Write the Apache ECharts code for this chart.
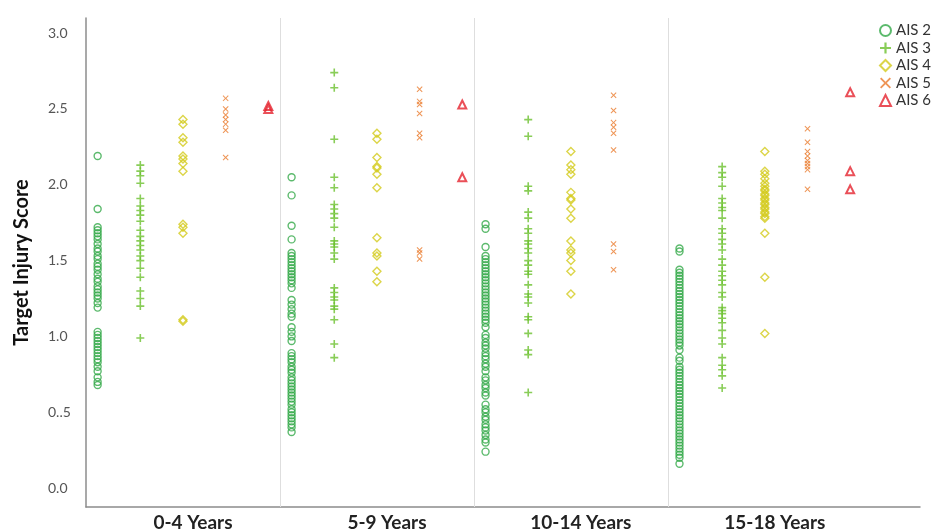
<!DOCTYPE html>
<html>
<head>
<meta charset="utf-8">
<script src="https://cdn.jsdelivr.net/npm/echarts@6/dist/echarts.min.js"></script>
<style>html,body{margin:0;padding:0;background:#fff}#c{width:937px;height:531px}</style>
</head>
<body>
<div id="c"></div>
<script>
// ---- data ----
const categories = ['0-4 Years', '5-9 Years', '10-14 Years', '15-18 Years'];
const seriesNames = ['AIS 2', 'AIS 3', 'AIS 4', 'AIS 5', 'AIS 6'];
const yTickLabels = ['0.0', '0..5', '1.0', '1.5', '2.0', '2.5', '3.0'];

// AIS 2 values per age group
const ais2_0_4 = [2.19, 1.84, 1.72, 1.70, 1.68, 1.66, 1.64, 1.61, 1.58, 1.56, 1.53, 1.51, 1.48, 1.46, 1.44, 1.41, 1.38, 1.36, 1.33, 1.31, 1.29, 1.27, 1.25, 1.22, 1.19, 1.03, 1.01, 0.99, 0.97, 0.95, 0.93, 0.91, 0.89, 0.87, 0.85, 0.83, 0.80, 0.77, 0.73, 0.70, 0.68];
const ais2_5_9 = [2.05, 1.93, 1.73, 1.64, 1.55, 1.53, 1.51, 1.49, 1.47, 1.45, 1.43, 1.41, 1.39, 1.37, 1.35, 1.32, 1.24, 1.21, 1.18, 1.15, 1.13, 1.06, 1.03, 1.00, 0.97, 0.89, 0.87, 0.85, 0.83, 0.80, 0.78, 0.76, 0.73, 0.71, 0.69, 0.67, 0.65, 0.63, 0.61, 0.59, 0.57, 0.55, 0.52, 0.50, 0.48, 0.46, 0.44, 0.42, 0.40, 0.37];
const ais2_10_14 = [1.74, 1.71, 1.59, 1.53, 1.51, 1.49, 1.47, 1.45, 1.43, 1.41, 1.39, 1.37, 1.35, 1.33, 1.31, 1.29, 1.27, 1.25, 1.23, 1.21, 1.19, 1.17, 1.15, 1.13, 1.11, 1.09, 1.06, 1.01, 0.99, 0.96, 0.94, 0.92, 0.89, 0.87, 0.85, 0.82, 0.80, 0.77, 0.73, 0.71, 0.68, 0.66, 0.63, 0.61, 0.55, 0.52, 0.50, 0.47, 0.45, 0.42, 0.40, 0.38, 0.35, 0.32, 0.30, 0.24];
const ais2_15_18 = [1.58, 1.56, 1.44, 1.42, 1.40, 1.38, 1.36, 1.34, 1.32, 1.30, 1.28, 1.26, 1.24, 1.22, 1.20, 1.18, 1.16, 1.14, 1.12, 1.10, 1.08, 1.06, 1.04, 1.02, 1.00, 0.98, 0.96, 0.94, 0.91, 0.86, 0.84, 0.80, 0.78, 0.76, 0.74, 0.72, 0.70, 0.68, 0.66, 0.64, 0.62, 0.60, 0.58, 0.56, 0.54, 0.52, 0.50, 0.48, 0.46, 0.44, 0.42, 0.40, 0.38, 0.36, 0.34, 0.32, 0.30, 0.28, 0.26, 0.24, 0.22, 0.20, 0.16];

// AIS 3
const ais3_0_4 = [2.13, 2.09, 2.06, 2.01, 1.91, 1.86, 1.83, 1.80, 1.76, 1.70, 1.66, 1.63, 1.60, 1.57, 1.53, 1.50, 1.45, 1.39, 1.30, 1.25, 1.20, 0.99];
const ais3_5_9 = [2.74, 2.64, 2.30, 2.05, 1.98, 1.87, 1.84, 1.81, 1.78, 1.72, 1.63, 1.61, 1.59, 1.55, 1.51, 1.32, 1.29, 1.26, 1.24, 1.20, 1.18, 1.11, 0.95, 0.86];
const ais3_10_14 = [2.43, 2.32, 1.99, 1.96, 1.82, 1.78, 1.71, 1.68, 1.63, 1.61, 1.58, 1.55, 1.50, 1.47, 1.43, 1.41, 1.34, 1.28, 1.26, 1.22, 1.13, 1.11, 1.02, 0.91, 0.88, 0.63];
const ais3_15_18 = [2.12, 2.08, 2.05, 1.99, 1.91, 1.88, 1.85, 1.83, 1.78, 1.71, 1.68, 1.64, 1.61, 1.57, 1.51, 1.47, 1.43, 1.40, 1.37, 1.34, 1.29, 1.26, 1.19, 1.17, 1.15, 1.12, 1.09, 1.04, 0.99, 0.95, 0.86, 0.81, 0.78, 0.74, 0.66];

// AIS 4
const ais4_0_4 = [2.43, 2.40, 2.31, 2.28, 2.19, 2.17, 2.14, 2.09, 1.74, 1.72, 1.68, 1.11, 1.10];
const ais4_5_9 = [2.34, 2.30, 2.18, 2.12, 2.11, 2.07, 1.98, 1.65, 1.55, 1.53, 1.43, 1.36];
const ais4_10_14 = [2.22, 2.13, 2.10, 2.07, 1.95, 1.91, 1.90, 1.84, 1.78, 1.63, 1.57, 1.55, 1.50, 1.43, 1.28];
const ais4_15_18 = [2.22, 2.09, 2.07, 2.04, 2.01, 1.99, 1.97, 1.96, 1.94, 1.93, 1.91, 1.90, 1.88, 1.87, 1.85, 1.84, 1.82, 1.81, 1.79, 1.78, 1.68, 1.39, 1.02];

// AIS 5
const ais5_0_4 = [2.57, 2.50, 2.46, 2.43, 2.40, 2.36, 2.18];
const ais5_5_9 = [2.63, 2.55, 2.53, 2.47, 2.34, 2.31, 1.57, 1.55, 1.51];
const ais5_10_14 = [2.59, 2.49, 2.41, 2.38, 2.34, 2.23, 1.61, 1.56, 1.44];
const ais5_15_18 = [2.37, 2.28, 2.22, 2.19, 2.16, 2.14, 2.12, 2.10, 1.97];

// AIS 6
const ais6_0_4 = [2.52, 2.50];
const ais6_5_9 = [2.53, 2.05];
const ais6_10_14 = [];
const ais6_15_18 = [2.61, 2.09, 1.97];

const groupedValues = [
  [ais2_0_4, ais2_5_9, ais2_10_14, ais2_15_18],
  [ais3_0_4, ais3_5_9, ais3_10_14, ais3_15_18],
  [ais4_0_4, ais4_5_9, ais4_10_14, ais4_15_18],
  [ais5_0_4, ais5_5_9, ais5_10_14, ais5_15_18],
  [ais6_0_4, ais6_5_9, ais6_10_14, ais6_15_18]
];

// ---- layout / style ----
const subOffsets = [0.06, 0.28, 0.5, 0.72, 0.94];
const colors = ['#33a948', '#6cc12e', '#d3cb1c', '#ea7a2c', '#e5232e'];
const plusPath = 'path://M4,0h2v4h4v2h-4v4h-2v-4h-4v-2h4z';
const crossPath = 'path://M1.2,0L5,3.8L8.8,0L10,1.2L6.2,5L10,8.8L8.8,10L5,6.2L1.2,10L0,8.8L3.8,5L0,1.2Z';
const symbols = ['circle', plusPath, 'diamond', crossPath, 'triangle'];
const sizes = [7, 8, 8, 6, 8];
const hollow = [true, false, true, false, true];
const borderW = [1.4, 0, 1.4, 0, 2];

const series = seriesNames.map((name, k) => {
  const data = [];
  groupedValues[k].forEach((vals, g) => {
    vals.forEach(v => data.push([g + subOffsets[k], v]));
  });
  const s = {
    name: name,
    type: 'scatter',
    data: data,
    symbol: symbols[k],
    symbolSize: sizes[k],
    itemStyle: hollow[k]
      ? { color: 'rgba(255,255,255,0)', borderColor: colors[k], borderWidth: borderW[k] }
      : { color: colors[k] },
    emphasis: { disabled: true }
  };
  if (k === 0) {
    s.markLine = {
      silent: true,
      symbol: ['none', 'none'],
      label: { show: false },
      lineStyle: { color: '#dedede', width: 1, type: 'solid' },
      data: [{ xAxis: 1 }, { xAxis: 2 }, { xAxis: 3 }]
    };
  }
  return s;
});

const chart = echarts.init(document.getElementById('c'), null, { renderer: 'canvas' });
chart.setOption({
  animation: false,
  backgroundColor: '#fff',
  grid: { left: 86, right: 17, top: 18, bottom: 24, containLabel: false, outerBoundsMode: 'none' },
  legend: {
    orient: 'vertical',
    left: 879,
    top: 23,
    padding: 0,
    itemWidth: 11,
    itemHeight: 11,
    itemGap: 2.5,
    textStyle: { fontFamily: 'Lato', fontSize: 15, color: '#333' },
    data: seriesNames
  },
  xAxis: {
    type: 'value',
    min: 0,
    max: 4.3,
    interval: 0.5,
    axisLine: { show: true, onZero: false, lineStyle: { color: '#8c8c8c', width: 1.5 } },
    axisTick: { show: false },
    splitLine: { show: false },
    axisLabel: {
      margin: 6,
      showMaxLabel: false,
      fontFamily: 'Lato',
      fontWeight: 'bold',
      fontSize: 19,
      color: '#222',
      padding: [0, 0, 0, 20],
      formatter: function (v) {
        const f = v - Math.floor(v);
        if (Math.abs(f - 0.5) < 1e-6) return categories[Math.floor(v)] || '';
        return '';
      }
    }
  },
  yAxis: {
    type: 'value',
    min: -0.125,
    max: 3.1,
    interval: 0.025,
    name: 'Target Injury Score',
    nameLocation: 'middle',
    nameGap: 54,
    nameRotate: 90,
    nameTextStyle: { fontFamily: 'Lato', fontWeight: 'bold', fontSize: 20, color: '#111' },
    axisLine: { show: true, onZero: false, lineStyle: { color: '#8c8c8c', width: 1.5 } },
    axisTick: { show: false },
    splitLine: { show: false },
    axisLabel: {
      margin: 38,
      align: 'left',
      fontFamily: 'Lato',
      fontSize: 14,
      color: '#555',
      formatter: function (v) {
        const r = Math.round(v * 2);
        if (Math.abs(v * 2 - r) < 1e-6 && r >= 0 && r < yTickLabels.length) return yTickLabels[r];
        return '';
      }
    }
  },
  series: series
});
</script>
</body>
</html>
